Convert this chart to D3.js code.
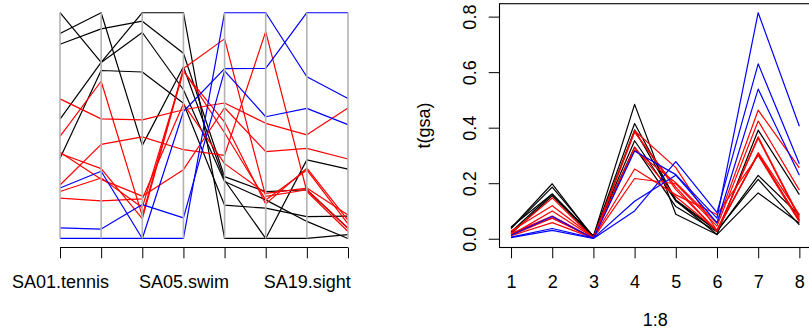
<!DOCTYPE html>
<html><head><meta charset="utf-8">
<script src="https://cdn.jsdelivr.net/npm/d3@7"></script>
<style>
html,body{margin:0;padding:0;background:#fff;}
svg{display:block;font-family:"Liberation Sans",Arial,Helvetica,sans-serif;}
</style>
</head><body>
<svg id="chart" width="809" height="335"></svg>
<script>
// ---- data ----
const axisIndex = [1, 2, 3, 4, 5, 6, 7, 8];
const axisLabels = ["SA01.tennis", "", "", "SA05.swim", "", "", "SA19.sight", ""];
const yTicks = [0, 0.2, 0.4, 0.6, 0.8];

const seriesBlack = [
  [0.042, 0.161, 0.009, 0.484, 0.088, 0.015, 0.165, 0.056],
  [0.0385, 0.198, 0.0043, 0.392, 0.137, 0.015, 0.391, 0.159],
  [0.0367, 0.186, 0.0087, 0.415, 0.140, 0.0314, 0.305, 0.066],
  [0.0241, 0.161, 0.0083, 0.353, 0.136, 0.0285, 0.214, 0.050],
  [0.0175, 0.155, 0.0069, 0.330, 0.116, 0.0256, 0.228, 0.085]
];
const seriesRed = [
  [0.0275, 0.119, 0.0052, 0.319, 0.202, 0.0553, 0.463, 0.255],
  [0.0212, 0.147, 0.0018, 0.389, 0.256, 0.0297, 0.305, 0.066],
  [0.0183, 0.082, 0.0017, 0.386, 0.177, 0.0285, 0.362, 0.073],
  [0.0185, 0.074, 0.0025, 0.217, 0.198, 0.0454, 0.424, 0.175],
  [0.0130, 0.100, 0.0046, 0.251, 0.158, 0.0874, 0.300, 0.061],
  [0.0119, 0.075, 0.0021, 0.384, 0.186, 0.0271, 0.367, 0.079],
  [0.0108, 0.058, 0.0024, 0.329, 0.151, 0.0308, 0.310, 0.087]
];
const seriesBlue = [
  [0.004, 0.030, 0.001, 0.100, 0.278, 0.094, 0.630, 0.270],
  [0.0125, 0.080, 0.001, 0.316, 0.231, 0.0745, 0.814, 0.405],
  [0.0058, 0.037, 0.0022, 0.135, 0.229, 0.0576, 0.539, 0.229]
];
const groupColors = {black: "#000000", red: "#FF0000", blue: "#0000FF"};

// ---- build rows ----
const rows = [];
seriesBlack.forEach(v => rows.push({values: v, color: groupColors.black}));
seriesRed.forEach(v => rows.push({values: v, color: groupColors.red}));
seriesBlue.forEach(v => rows.push({values: v, color: groupColors.blue}));

const svg = d3.select("#chart");
const FONT = 18;
const TICK = 10.8;
const plotTop = 3.7, plotBottom = 247.5;

function ext(lo, hi) { const d = (hi - lo) * 0.04; return [lo - d, hi + d]; }

// ================= LEFT PANEL: parallel coordinates =================
const L = {x0: 48.5, x1: 359.5};
const xL = d3.scaleLinear().domain(ext(1, 8)).range([L.x0, L.x1]);
const yL = d3.scaleLinear().domain(ext(0, 1)).range([plotBottom, plotTop]);

const colMin = axisIndex.map((_, j) => d3.min(rows, r => r.values[j]));
const colMax = axisIndex.map((_, j) => d3.max(rows, r => r.values[j]));

const lineL = d3.line()
  .x((d, j) => xL(axisIndex[j]))
  .y((d, j) => yL((d - colMin[j]) / (colMax[j] - colMin[j])));

const gL = svg.append("g");
gL.selectAll("path.pc").data(rows).join("path")
  .attr("class", "pc")
  .attr("d", r => lineL(r.values))
  .attr("fill", "none")
  .attr("stroke", r => r.color)
  .attr("stroke-width", 1.2)
  .attr("stroke-linejoin", "round");

gL.selectAll("line.ax").data(axisIndex).join("line")
  .attr("class", "ax")
  .attr("x1", d => xL(d)).attr("x2", d => xL(d))
  .attr("y1", yL(0)).attr("y2", yL(1))
  .attr("stroke", "#B3B3B3").attr("stroke-width", 1.6);

const axL = d3.axisBottom(xL).tickValues(axisIndex)
  .tickSize(TICK).tickSizeOuter(0)
  .tickFormat((d, i) => axisLabels[i]);
const gAxL = svg.append("g").attr("transform", `translate(0,${plotBottom})`).call(axL);
gAxL.select(".domain").attr("d", `M${xL(1)},0H${xL(8)}`).attr("stroke", "#000");
gAxL.selectAll(".tick line").attr("stroke", "#000");
gAxL.selectAll(".tick text").attr("y", 40.5).attr("dy", null)
  .attr("font-size", FONT).attr("font-family", "Liberation Sans, Arial, sans-serif").attr("fill", "#000");

// ================= RIGHT PANEL: matplot =================
const R = {x0: 499.5, x1: 810.9};
const xR = d3.scaleLinear().domain(ext(1, 8)).range([R.x0, R.x1]);
const allVals = rows.flatMap(r => r.values);
const yR = d3.scaleLinear().domain(ext(d3.min(allVals), d3.max(allVals))).range([plotBottom, plotTop]);

const lineR = d3.line().x((d, j) => xR(axisIndex[j])).y(d => yR(d));
const gR = svg.append("g");
gR.selectAll("path.mp").data(rows).join("path")
  .attr("class", "mp")
  .attr("d", r => lineR(r.values))
  .attr("fill", "none")
  .attr("stroke", r => r.color)
  .attr("stroke-width", 1.2)
  .attr("stroke-linejoin", "round");

gR.append("rect")
  .attr("x", R.x0).attr("y", plotTop)
  .attr("width", R.x1 - R.x0).attr("height", plotBottom - plotTop)
  .attr("fill", "none").attr("stroke", "#000").attr("stroke-width", 1.1);

const axRB = d3.axisBottom(xR).tickValues(axisIndex).tickSize(TICK).tickSizeOuter(0);
const gAxRB = svg.append("g").attr("transform", `translate(0,${plotBottom})`).call(axRB);
gAxRB.select(".domain").attr("d", `M${xR(1)},0H${xR(8)}`).attr("stroke", "#000");
gAxRB.selectAll(".tick line").attr("stroke", "#000");
gAxRB.selectAll(".tick text").attr("y", 40.5).attr("dy", null)
  .attr("font-size", FONT).attr("font-family", "Liberation Sans, Arial, sans-serif").attr("fill", "#000");

const axRL = d3.axisLeft(yR).tickValues(yTicks).tickSize(TICK).tickSizeOuter(0)
  .tickFormat(d3.format(".1f"));
const gAxRL = svg.append("g").attr("transform", `translate(${R.x0},0)`).call(axRL);
gAxRL.select(".domain").attr("d", `M0,${yR(0)}V${yR(0.8)}`).attr("stroke", "#000");
gAxRL.selectAll(".tick line").attr("stroke", "#000");
gAxRL.selectAll(".tick text")
  .attr("x", null).attr("dy", null)
  .attr("text-anchor", "middle")
  .attr("transform", "translate(-23.2,0) rotate(-90)")
  .attr("font-size", FONT).attr("font-family", "Liberation Sans, Arial, sans-serif").attr("fill", "#000");

svg.append("text")
  .attr("transform", `translate(430,${(plotTop + plotBottom) / 2}) rotate(-90)`)
  .attr("text-anchor", "middle").attr("font-size", FONT).text("t(gsa)");

svg.append("text")
  .attr("x", (R.x0 + R.x1) / 2).attr("y", 326)
  .attr("text-anchor", "middle").attr("font-size", FONT).text("1:8");
</script>
</body></html>
